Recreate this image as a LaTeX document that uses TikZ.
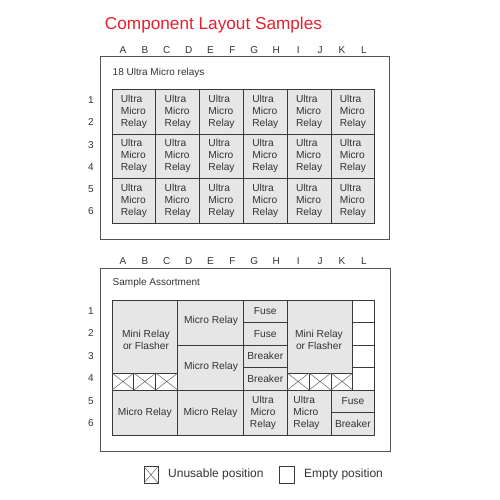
\documentclass[tikz,border=0pt]{standalone}
\usepackage{fontspec}
\setmainfont{Liberation Sans}
\usetikzlibrary{calc}
\definecolor{cellfill}{HTML}{E6E6E6}
\definecolor{linec}{HTML}{3A3A3A}
\definecolor{framec}{HTML}{555555}
\definecolor{txtc}{HTML}{333333}
\definecolor{titlec}{HTML}{E5202E}
\tikzset{
  cellst/.style={draw=linec, fill=cellfill, line width=0.9pt},
  emptyst/.style={draw=linec, fill=white, line width=0.9pt},
  framest/.style={draw=framec, line width=0.9pt},
  crossst/.style={draw=linec!80, line width=0.5pt},
  celltxt/.style={text=txtc, inner sep=0pt, font=\fontsize{10.2}{12}\selectfont},
  lbl/.style={text=txtc, inner sep=0pt, font=\fontsize{10}{12}\selectfont},
  legtxt/.style={text=txtc, inner sep=0pt, anchor=west, font=\fontsize{12}{14}\selectfont},
}
% #1 name, #2 x1, #3 y1, #4 x2, #5 y2, #6 text, #7 extra node options
\newcommand{\cellbox}[7]{%
  \draw[cellst] ({#2},{#3}) rectangle ({#4},{#5});
  \node[celltxt,#7] (#1) at ($({#2},{#3})!0.5!({#4},{#5})$) {#6};}
\newcommand{\xbox}[5]{%
  \draw[emptyst] ({#2},{#3}) rectangle ({#4},{#5});
  \coordinate (#1) at ($({#2},{#3})!0.5!({#4},{#5})$);
  \draw[crossst] ({#2},{#3}) -- ({#4},{#5}) ({#2},{#5}) -- ({#4},{#3});}
\begin{document}
\begin{tikzpicture}[x=1pt,y=-1pt]
\useasboundingbox (0,0) rectangle (500,500);
% title
\node[text=titlec, anchor=base, inner sep=0pt, font=\fontsize{17.2}{20}\selectfont] (title) at (213.5,30) {Component Layout Samples};

% ===== top section =====
\draw[framest] (100,56.5) rectangle (389,239);
\node[lbl, anchor=west] (toptitle) at (112.5,73) {18 Ultra Micro relays};
\foreach \L [count=\i from 0] in {A,B,C,D,E,F,G,H,I,J,K,L}
  \node[lbl] (tc\L) at ({112+21.9*(\i+0.5)},50) {\L};
\foreach \n [count=\i from 0] in {1,...,6}
  \node[lbl] (tr\n) at (91,{100+22.3*\i}) {\n};
\foreach \c in {0,...,5}
  \foreach \r in {0,1,2}
    \cellbox{u\c\r}{112+43.8*\c}{89.5+44.5*\r}{112+43.8*(\c+1)}{89.5+44.5*(\r+1)}{Ultra\\Micro\\Relay}{align=left};

% ===== bottom section =====
\draw[framest] (100,268) rectangle (390,451);
\node[lbl, anchor=west] (bottitle) at (112.5,283) {Sample Assortment};
\foreach \L [count=\i from 0] in {A,B,C,D,E,F,G,H,I,J,K,L}
  \node[lbl] (bc\L) at ({112+21.9*(\i+0.5)},261) {\L};
\foreach \n [count=\i from 0] in {1,...,6}
  \node[lbl] (br\n) at (91,{311+22.5*\i}) {\n};

% left mini relay
\draw[cellst] (112,300) rectangle (177.7,373);
\node[celltxt, align=center] (minil) at (146,340) {Mini Relay\\or Flasher};
% unusable A4-C4
\xbox{xa}{112}{373}{133.9}{390}
\xbox{xb}{133.9}{373}{155.8}{390}
\xbox{xc}{155.8}{373}{177.7}{390}
% micro relays D-F
\draw[cellst] (177.7,300) rectangle (243.4,345);
\node[celltxt] (microa) at (211,321) {Micro Relay};
\draw[cellst] (177.7,345) rectangle (243.4,390);
\node[celltxt] (microb) at (211,366.5) {Micro Relay};
% G-H column
\cellbox{fusea}{243.4}{300}{287.2}{322.5}{Fuse}{}
\cellbox{fuseb}{243.4}{322.5}{287.2}{345}{Fuse}{}
\cellbox{breaka}{243.4}{345}{287.2}{367.5}{Breaker}{}
\cellbox{breakb}{243.4}{367.5}{287.2}{390}{Breaker}{}
% right mini relay
\draw[cellst] (287.2,300) rectangle (352.9,373);
\node[celltxt, align=center] (minir) at (319,340) {Mini Relay\\or Flasher};
\xbox{xi}{287.2}{373}{309.1}{390}
\xbox{xj}{309.1}{373}{331}{390}
\xbox{xk}{331}{373}{352.9}{390}
% empty L1-L4
\foreach \r in {0,...,3}
  \draw[emptyst] (352.9,{300+22.5*\r}) rectangle (374.8,{300+22.5*(\r+1)});
% rows 5-6
\cellbox{microc}{112}{390}{177.7}{435}{Micro Relay}{}
\cellbox{microd}{177.7}{390}{243.4}{435}{Micro Relay}{}
\draw[cellst] (243.4,390) rectangle (287.2,435);
\node[celltxt, align=center] (umra) at (263,412.5) {Ultra\\Micro\\Relay};
\draw[cellst] (287.2,390) rectangle (331,435);
\node[celltxt, align=left] (umrb) at (306.5,412.5) {Ultra\\Micro\\Relay};
\cellbox{fusec}{331}{390}{374.8}{412.5}{Fuse}{}
\cellbox{breakc}{331}{412.5}{374.8}{435}{Breaker}{}

% ===== legend =====
\xbox{legx}{144}{466.5}{158}{483}
\node[legtxt] (legxt) at (168,474.5) {Unusable position};
\draw[emptyst] (279,466.5) rectangle (294,483);
\coordinate (lege) at (286.5,474.75);
\node[legtxt] (leget) at (304,474.5) {Empty position};
\end{tikzpicture}
\end{document}
